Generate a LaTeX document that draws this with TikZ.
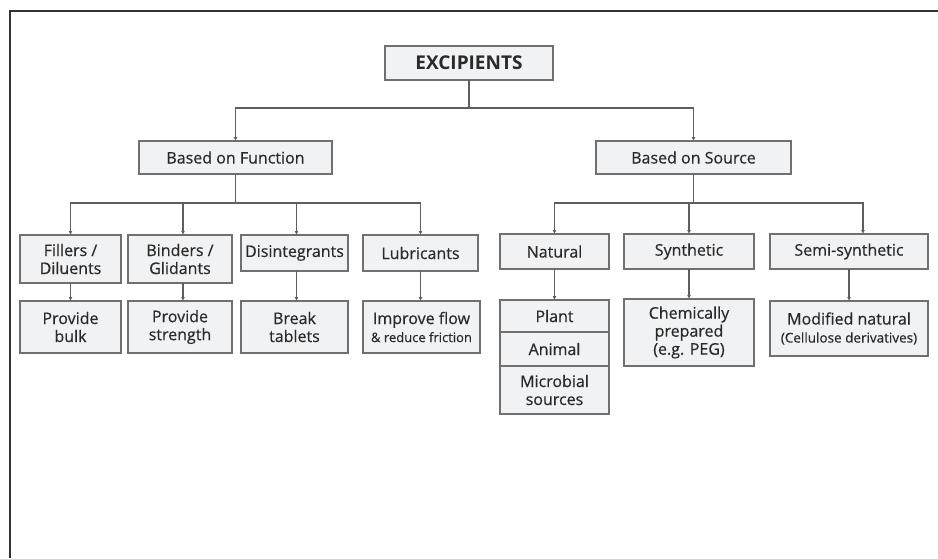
\documentclass[tikz,border=0pt]{standalone}
\usepackage{fontspec}
\setmainfont{Open Sans}
\newfontfamily\boxfont{Open Sans}[FakeBold=0.5]
\usepackage{xcolor}
\usetikzlibrary{arrows.meta, positioning}

\definecolor{boxfill}{HTML}{F1F2F4}
\definecolor{boxline}{HTML}{707070}
\definecolor{linkline}{HTML}{5E5E5E}
\definecolor{txt}{HTML}{2A2A2A}

\begin{document}
\begin{tikzpicture}[
    x=1pt, y=-1pt,
    box/.style={rectangle, draw=boxline, line width=1.2pt, fill=boxfill, align=center,
                inner sep=2pt, outer sep=0pt, text=txt, font=\boxfont\fontsize{16}{18}\selectfont},
    arrow/.style={-{Latex[length=4pt,width=4pt]}, draw=linkline, line width=1.1pt},
    link/.style={draw=linkline, line width=1.1pt}
]
\useasboundingbox (0,0) rectangle (938,558);

% Frame
\draw[line width=1.6pt, draw=black!80] (10,558) -- (10,11) -- (938,11);

% Nodes
\node[box, minimum width=168, minimum height=34, font=\fontsize{19}{21}\selectfont\bfseries] (excip) at (469,63) {EXCIPIENTS};
\node[box, minimum width=193, minimum height=33] (func) at (235.5,157.5) {Based on Function};
\node[box, minimum width=195, minimum height=33] (source) at (693.5,157.5) {Based on Source};

\node[box, minimum width=101, minimum height=48] (fillers) at (70.5,259) {Fillers /\\Diluents};
\node[box, minimum width=104, minimum height=48] (binders) at (180,259) {Binders /\\Glidants};
\node[box, minimum width=107, minimum height=36] (disint) at (294.5,253) {Disintegrants};
\node[box, minimum width=115, minimum height=36] (lubric) at (420.5,253) {Lubricants};

\node[box, minimum width=101, minimum height=52] (bulk) at (70.5,327) {Provide\\bulk};
\node[box, minimum width=104, minimum height=52] (strength) at (180,327) {Provide\\strength};
\node[box, minimum width=107, minimum height=52] (breaktab) at (294.5,327) {Break\\tablets};
\node[box, minimum width=117, minimum height=52, inner sep=1pt] (improve) at (421.5,327) {Improve flow\\{\fontsize{13}{16}\selectfont\&~reduce friction}};

\node[box, minimum width=109, minimum height=35] (natural) at (554.5,251.5) {Natural};
\node[box, minimum width=130, minimum height=35] (synth) at (689,251.5) {Synthetic};
\node[box, minimum width=158, minimum height=35] (semi) at (849,251.5) {Semi-synthetic};

\node[box, minimum width=109, minimum height=32] (plant) at (554.5,316) {Plant};
\node[box, minimum width=109, minimum height=34, below=0pt of plant] (animal) {Animal};
\node[box, minimum width=109, minimum height=48, below=0pt of animal] (microbial) {Microbial\\sources};
\node[box, minimum width=130, minimum height=67] (chem) at (689,332.5) {Chemically\\prepared\\(e.g. PEG)};
\node[box, minimum width=158, minimum height=55, inner sep=1pt] (modif) at (849,328.5) {Modified natural\\{\fontsize{13.5}{18}\selectfont(Cellulose derivatives)}};

% Branch points
\coordinate (split1) at (469,108);
\coordinate (split2) at (235.5,203);
\coordinate (split3) at (693.5,203);

% Arrows
\draw[link] (excip) -- (split1);
\draw[arrow] (split1) -| (func);
\draw[arrow] (split1) -| (source);

\draw[link] (func) -- (split2);
\draw[arrow] (split2) -| (fillers);
\draw[arrow] (split2) -| ([xshift=3pt]binders.north);
\draw[arrow] (split2) -| ([xshift=2pt]disint.north);
\draw[arrow] (split2) -| (lubric);

\draw[link] (source) -- (split3);
\draw[arrow] (split3) -| (natural);
\draw[arrow] (split3) -| (synth);
\draw[arrow] (split3) -| ([xshift=14pt]semi.north);

\draw[arrow] (fillers) -- (bulk);
\draw[arrow] ([xshift=3pt]binders.south) -- ([xshift=3pt]strength.north);
\draw[arrow] ([xshift=2pt]disint.south) -- ([xshift=2pt]breaktab.north);
\draw[arrow] (lubric) -- (lubric |- improve.north);
\draw[arrow] (natural) -- (plant);
\draw[arrow] (synth) -- (chem);
\draw[arrow] (semi) -- (modif);

\end{tikzpicture}
\end{document}
